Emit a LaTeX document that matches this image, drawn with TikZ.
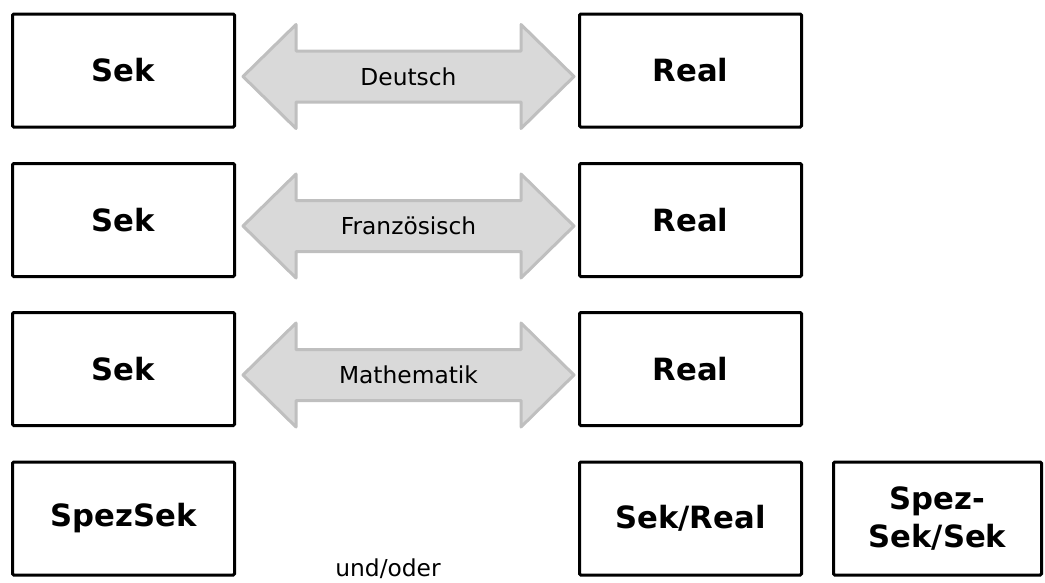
\documentclass[tikz,border=0pt]{standalone}
\usepackage{fontspec}
\setmainfont{DejaVu Sans}
\usetikzlibrary{calc}
\definecolor{pfeilgrau}{HTML}{D9D9D9}
\definecolor{randgrau}{HTML}{BFBFBF}
\begin{document}
\begin{tikzpicture}[x=0.75pt,y=-0.75pt,
  every node/.style={font=\fontsize{17.5}{21}\selectfont},
  stufe/.style={draw,line width=2.25pt,rounded corners=1pt,
    minimum width=166.5pt,minimum height=84.75pt,align=center,
    font=\bfseries\fontsize{23}{28}\selectfont},
  fach/.style={draw=randgrau,fill=pfeilgrau,line width=2.25pt,line join=round}]
\useasboundingbox (0,0) rectangle (1045,582);
% drei Faecher: Sek <-> Real
\foreach \y/\i/\fach in {70.5/1/Deutsch,220/2/Französisch,369/3/Mathematik}{
  \node[stufe] (sek\i)  at (123.5,\y) {Sek};
  \node[stufe] (real\i) at (690.5,\y) {Real};
  \coordinate (l\i) at ($(sek\i.east)+(7,6)$);
  \coordinate (r\i) at ($(real\i.west)+(-4,6)$);
  \draw[fach] (l\i) -- ($(l\i)+(53,-52)$) -- ($(l\i)+(53,-25.5)$)
    -- ($(r\i)+(-53,-25.5)$) -- ($(r\i)+(-53,-52)$) -- (r\i)
    -- ($(r\i)+(-53,52)$) -- ($(r\i)+(-53,25.5)$)
    -- ($(l\i)+(53,25.5)$) -- ($(l\i)+(53,52)$) -- cycle;
  \node (fach\i) at ($(l\i)!.5!(r\i)$) {\fach};
}
% letzte Zeile
\node[stufe] (spez)    at (123.5,518.5) {SpezSek};
\node[stufe] (sekreal) at (690.5,518.5) {Sek/Real};
\node[stufe,minimum width=156pt] (spezsek) at (937.5,518.5) {Spez-\\Sek/Sek};
\node[anchor=base] (undoder) at (388,576) {und/oder};
\end{tikzpicture}
\end{document}
